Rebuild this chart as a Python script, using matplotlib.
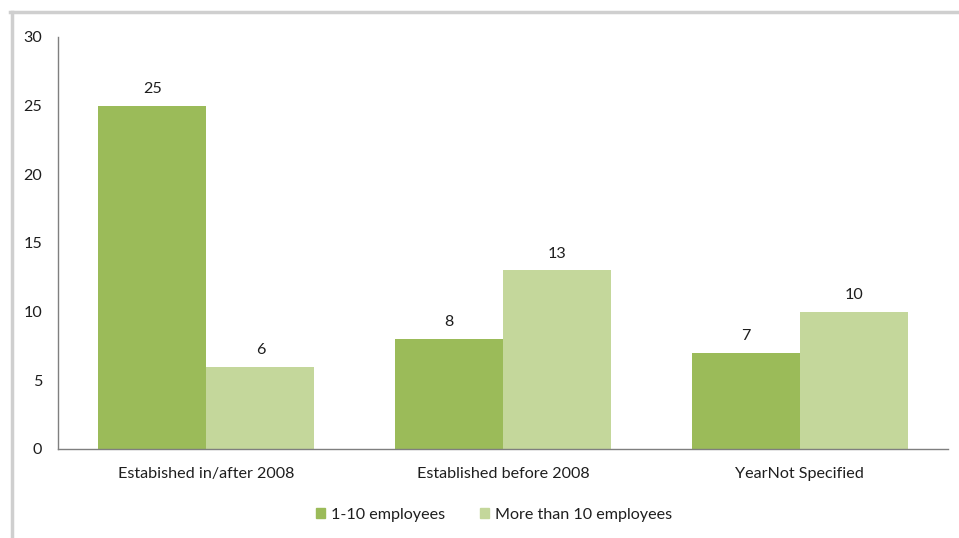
import matplotlib
matplotlib.use("Agg")
import matplotlib.pyplot as plt
from matplotlib.lines import Line2D
import numpy as np

categories = ["Estabished in/after 2008", "Established before 2008", "YearNot Specified"]
series_names = ["1-10 employees", "More than 10 employees"]
small_firms = [25, 8, 7]
large_firms = [6, 13, 10]
y_ticks = [0, 5, 10, 15, 20, 25, 30]

colors = ["#9BBB59", "#C4D79B"]
text_color = "#1E1E1E"
plt.rcParams["font.family"] = ["Lato", "DejaVu Sans"]
fs = 11.6

W, H = 959, 538
fig = plt.figure(figsize=(W / 100, H / 100), dpi=100)

# chart frame (top and left edges visible)
fig.add_artist(Line2D([10 / W, 1], [1 - 12 / H, 1 - 12 / H], color="#CFCFCF", lw=2.5))
fig.add_artist(Line2D([12 / W, 12 / W], [0, 1 - 12 / H], color="#CFCFCF", lw=2.5))

ax = fig.add_axes([58 / W, 1 - 449 / H, (948 - 58) / W, (449 - 37) / H])
x = np.arange(len(categories))
bw = 0.364
bars1 = ax.bar(x - bw / 2, small_firms, bw, color=colors[0], label=series_names[0])
bars2 = ax.bar(x + bw / 2, large_firms, bw, color=colors[1], label=series_names[1])

for bars, vals in ((bars1, small_firms), (bars2, large_firms)):
    for b, v in zip(bars, vals):
        ax.annotate(str(v), (b.get_x() + b.get_width() / 2, v), xytext=(0, 7),
                    textcoords="offset points", ha="center", va="bottom",
                    fontsize=fs, color=text_color)

ax.set_xlim(-0.5, len(categories) - 0.5)
ax.set_ylim(0, 30)
ax.set_yticks(y_ticks)
ax.set_xticks(x)
ax.set_xticklabels(categories)
ax.tick_params(axis="both", length=0, labelsize=fs, colors=text_color)
ax.tick_params(axis="y", pad=11.5)
ax.tick_params(axis="x", pad=13)
for s in ("top", "right"):
    ax.spines[s].set_visible(False)
for s in ("left", "bottom"):
    ax.spines[s].set_color("#7F7F7F")
    ax.spines[s].set_linewidth(1)

handles = [plt.Rectangle((0, 0), 1, 1, color=c) for c in colors]
fig.legend(handles, series_names, loc="center", bbox_to_anchor=(494 / W, 1 - 515 / H),
           ncol=2, frameon=False, fontsize=fs, handlelength=0.55, handleheight=0.55,
           handletextpad=0.35, columnspacing=2.2, labelcolor=text_color)

fig.savefig("out.png", dpi=100, facecolor="white")
